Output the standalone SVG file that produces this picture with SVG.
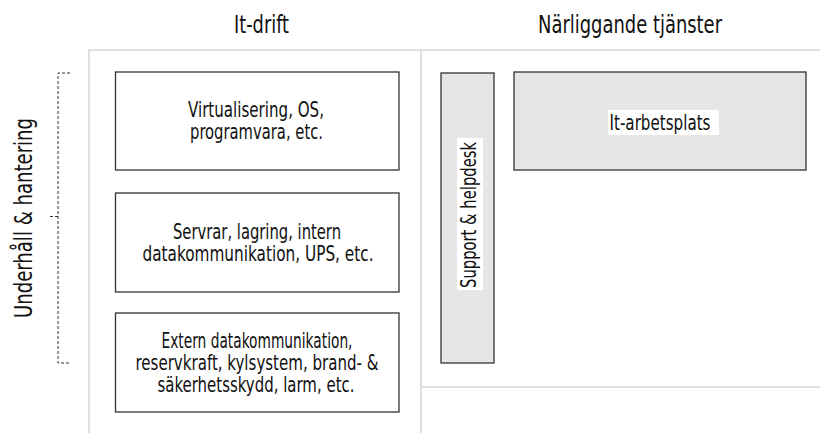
<svg xmlns="http://www.w3.org/2000/svg" width="820" height="433" viewBox="0 0 820 433">
<style>
text{font-family:"Liberation Sans Narrow","DejaVu Sans Condensed","Arial Narrow",sans-serif;fill:#111;}
.t{font-size:24px;text-anchor:middle;}
.b{font-size:21px;text-anchor:middle;}
.grid{stroke:#e0e0e0;stroke-width:2;fill:none;}
.box{fill:#fff;stroke:#333;stroke-width:1.3;}
.gbox{fill:#e6e6e6;stroke:#333;stroke-width:1.3;}
.dash{stroke:#333;stroke-width:1;fill:none;stroke-dasharray:3 2;}
</style>
<rect width="820" height="433" fill="#fff"/>
<g id="grid">
<path class="grid" d="M89,433 V50 H820 M421,50 V433 M421,387 H820"/>
</g>
<g id="titles">
<text class="t" x="261.5" y="33" textLength="55" lengthAdjust="spacingAndGlyphs">It-drift</text>
<text class="t" x="630" y="33" textLength="184" lengthAdjust="spacingAndGlyphs">Närliggande tjänster</text>
</g>
<g id="bracket">
<path class="dash" d="M70,73 H58 V363 H70 M58,216.5 H48"/>
<text class="t" transform="translate(32,218) rotate(-90)" x="0" y="0" textLength="200" lengthAdjust="spacingAndGlyphs">Underhåll &amp; hantering</text>
</g>
<g id="node-virtualisering">
<rect class="box" x="115.5" y="72" width="283.5" height="98"/>
<text class="b" x="256" y="116.5" textLength="136" lengthAdjust="spacingAndGlyphs">Virtualisering, OS,</text>
<text class="b" x="256.5" y="138.5" textLength="133" lengthAdjust="spacingAndGlyphs">programvara, etc.</text>
</g>
<g id="node-servrar">
<rect class="box" x="115.5" y="193" width="283.5" height="99"/>
<text class="b" x="257" y="239" textLength="168" lengthAdjust="spacingAndGlyphs">Servrar, lagring, intern</text>
<text class="b" x="258" y="261" textLength="231" lengthAdjust="spacingAndGlyphs">datakommunikation, UPS, etc.</text>
</g>
<g id="node-extern">
<rect class="box" x="115.5" y="313" width="283.5" height="99"/>
<text class="b" x="257" y="348" textLength="191" lengthAdjust="spacingAndGlyphs">Extern datakommunikation,</text>
<text class="b" x="257" y="370" textLength="243" lengthAdjust="spacingAndGlyphs">reservkraft, kylsystem, brand- &amp;</text>
<text class="b" x="256" y="392" textLength="197" lengthAdjust="spacingAndGlyphs">säkerhetsskydd, larm, etc.</text>
</g>
<g id="node-support">
<rect class="gbox" x="441" y="73" width="53" height="290"/>
<rect x="457" y="138" width="26" height="152" fill="#fff"/>
<text class="b" transform="translate(476,215) rotate(-90)" x="0" y="0" textLength="146" lengthAdjust="spacingAndGlyphs">Support &amp; helpdesk</text>
</g>
<g id="node-arbetsplats">
<rect class="gbox" x="514" y="72" width="292" height="98"/>
<rect x="608" y="110" width="111" height="25" fill="#fff"/>
<text class="b" x="660" y="130" textLength="101" lengthAdjust="spacingAndGlyphs">It-arbetsplats</text>
</g>
</svg>
